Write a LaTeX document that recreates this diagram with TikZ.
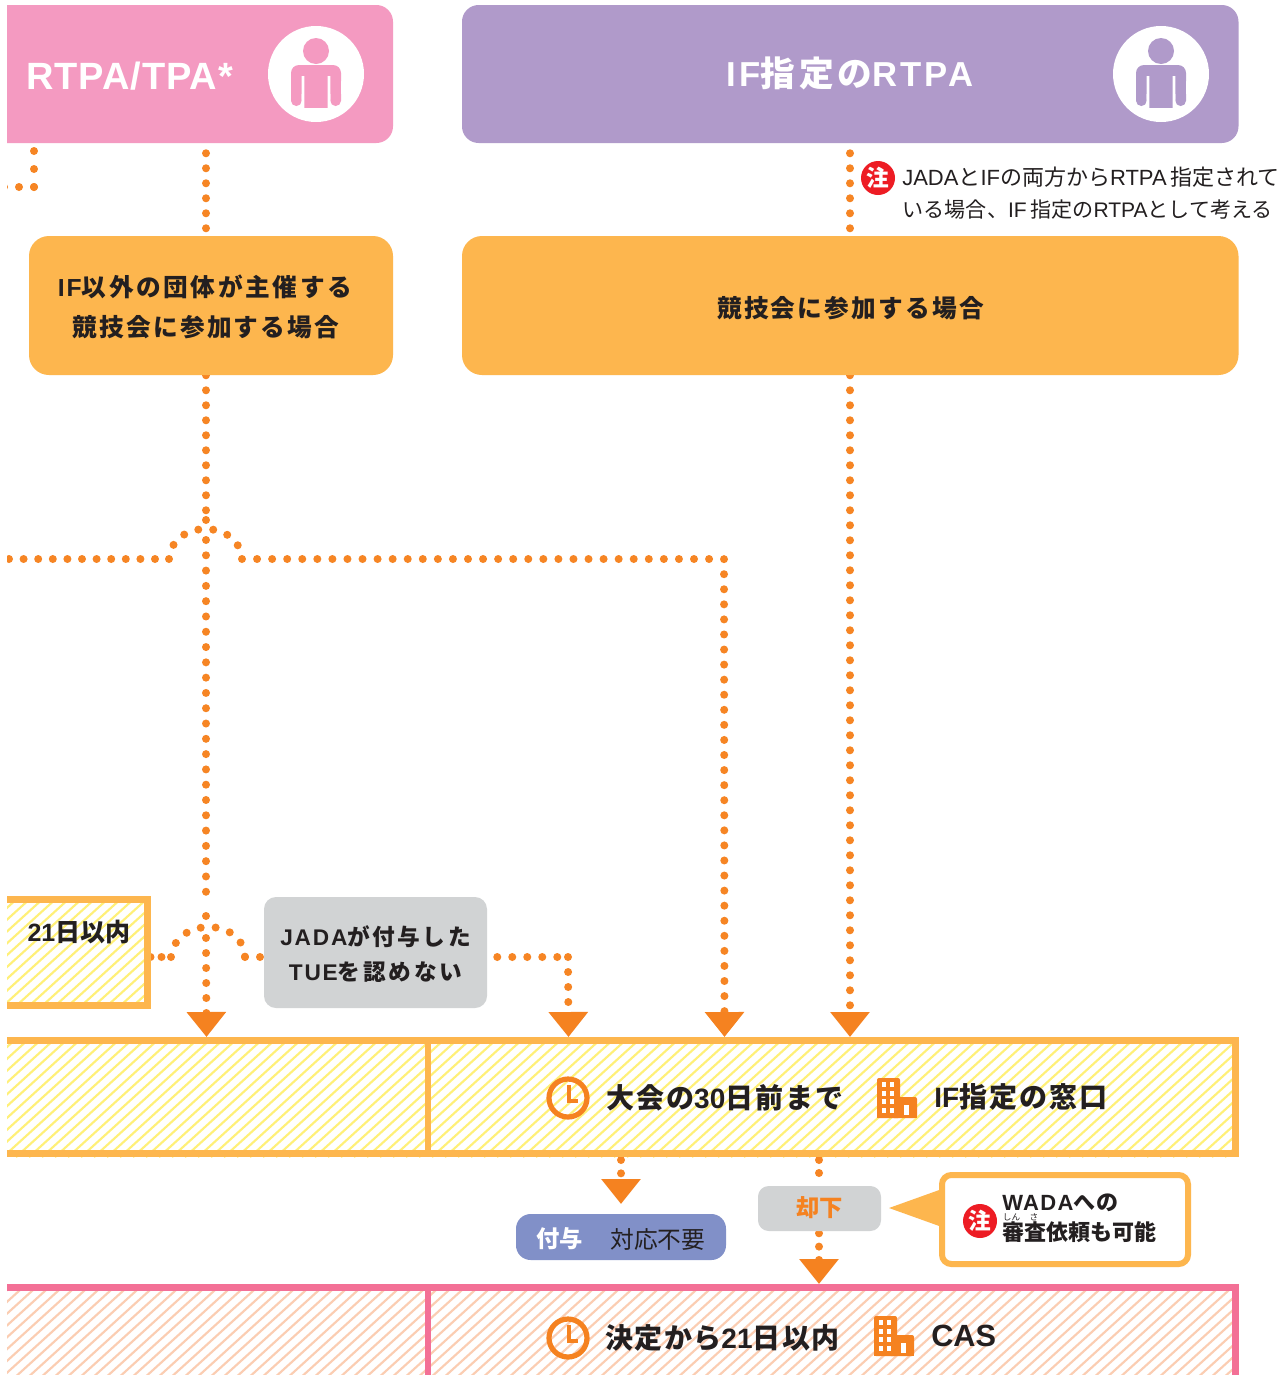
\documentclass[tikz,border=0pt]{standalone}
\usepackage{fontspec}
\usetikzlibrary{arrows.meta,calc}
\setmainfont{Liberation Sans}
\newfontfamily\jp{Noto Sans CJK JP}
\newcommand{\J}[1]{{\jp #1}}
\newcommand{\LS}[1]{\addfontfeature{LetterSpace=#1}}
\definecolor{dot}{HTML}{F68524}
\definecolor{tip}{HTML}{F58220}
\definecolor{pinkbox}{HTML}{F49AC1}
\definecolor{purplebox}{HTML}{B09ACA}
\definecolor{ambr}{HTML}{FDB64E}
\definecolor{ink}{HTML}{231F20}
\definecolor{graybox}{HTML}{D1D3D4}
\definecolor{bluepill}{HTML}{8190C8}
\definecolor{redmark}{HTML}{ED1C24}
\definecolor{rosebar}{HTML}{F37096}
\definecolor{hatchY}{HTML}{FFF078}
\definecolor{hatchP}{HTML}{FBCDB2}
\pgfdeclarelayer{bg}
\pgfdeclarelayer{under}
\pgfsetlayers{bg,under,main}
\tikzset{
  dotline/.style={draw=dot,line width=6pt,line cap=round,dash pattern=on 0pt off #1},
  dotline/.default=11.25pt,
  tiparrow/.style={-{Triangle[width=28.5pt,length=18.75pt,fill=tip,color=tip]}},
  lab/.style={text=ink,inner sep=0pt,font=\bfseries},
  solidbox/.style={inner sep=0pt,rounded corners=#1},
  framed/.style={draw=ambr,line width=5.25pt,inner sep=0pt},
  roseframed/.style={draw=rosebar,line width=5.25pt,inner sep=0pt},
  notemark/.style={circle,fill=redmark,minimum size=25.5pt,inner sep=0pt,text=white,font=\jp\bfseries\fontsize{17}{17}\selectfont},
}
% name, style, x1,y1,x2,y2
\newcommand{\boxnode}[6]{\node[#2,minimum width={(#5-#3)*0.75pt},minimum height={(#6-#4)*0.75pt}] (#1) at ({(#3+#5)/2},{(#4+#6)/2}) {};}
% icons
\newcommand{\person}[3]{%
  \begin{scope}[shift={(#1,#2)}]
    \fill[white] (0,0) circle[radius=48];
    \fill[#3] (0,-23) circle[radius=13];
    \fill[#3,rounded corners=6pt] (-25,15) -- (-25,-9) -- (25,-9) -- (25,15) -- cycle;
    \fill[#3] (-25,5) rectangle (25,20);
    \fill[#3] (-25,20) rectangle (-14.3,26.7) (14.3,20) rectangle (25,26.7);
    \fill[#3] (-19.65,26.7) circle[radius=5.35] (19.65,26.7) circle[radius=5.35];
    \fill[#3] (-11.7,20) rectangle (11.7,34);
    \fill[white] (-14.3,2) rectangle (-11.7,36) (11.7,2) rectangle (14.3,36);
  \end{scope}}
\newcommand{\clockicon}[2]{%
  \begin{scope}[shift={(#1,#2)}]
    \draw[tip,line width=3.9pt] (0,0) circle[radius=19];
    \draw[tip,line width=3pt] (1,-13) -- (1,3) -- (10,3);
  \end{scope}}
\newcommand{\building}[2]{%
  \begin{scope}[shift={(#1,#2)}]
    \fill[tip,rounded corners=1.5pt] (0,0) rectangle (23,40);
    \fill[tip] (0,20) rectangle (23,40);
    \fill[tip,rounded corners=1.5pt] (15,19) rectangle (40,40);
    \fill[tip] (15,24) rectangle (40,40);
    \foreach \xx in {4.5,13} \foreach \yy in {4,12.5,21,30} \fill[white] (\xx,\yy) rectangle ++(4,5);
    \fill[white] (27,27) rectangle ++(4.5,10);
  \end{scope}}
\newcommand{\hatchrect}[6]{% x1,y1,x2,y2,color,bg
  \begin{pgfonlayer}{bg}
  \begin{scope}
    \clip (#1,#2) rectangle (#3,#4);
    \fill[#6] (#1,#2) rectangle (#3,#4);
    \foreach \i in {-400,-387,...,1300} \draw[#5,line width=1.6pt] (\i,#4) -- ++({1.1*(#4-#2)},{-(#4-#2)});
  \end{scope}
  \end{pgfonlayer}}
\begin{document}
\begin{tikzpicture}[x=0.75pt,y=-0.75pt]
\useasboundingbox (0,0) rectangle (1286,1375);
\begin{pgfonlayer}{bg}\fill[white] (0,0) rectangle (1286,1375);\end{pgfonlayer}

% header boxes
\boxnode{pinkhead}{solidbox=12.5pt,fill=pinkbox}{-30}{5}{393}{143}
\boxnode{purplehead}{solidbox=12.5pt,fill=purplebox}{462}{5}{1238.5}{143}
\boxnode{caseA}{solidbox=15pt,fill=ambr}{29}{236}{393}{375}
\boxnode{caseB}{solidbox=15pt,fill=ambr}{462}{236}{1238.5}{375}
\person{316}{74}{pinkbox}
\person{1161}{74}{purplebox}
\node[lab,text=white,anchor=west] (titleA) at (26,76) {\fontsize{28.5}{30}\selectfont\LS{2.5}RTPA/TPA*};
\node[lab,text=white] (titleB) at (850,73.5) {\fontsize{26}{30}\selectfont\LS{9}IF\J{\LS{11}指定の}RTPA};
\node[lab,align=center] (caseAt1) at (205,287) {\fontsize{18.5}{20}\selectfont\LS{8}IF\J{\LS{10.7}以外の団体が主催する}};
\node[lab,align=center] (caseAt2) at (206,327) {\fontsize{18.5}{20}\selectfont\J{\LS{9}競技会に参加する場合}};
\node[lab] (caseBt) at (850.5,308) {\fontsize{18.5}{20}\selectfont\J{\LS{9}競技会に参加する場合}};

% note
\node[notemark] (noteA) at (878,178) {注};
\node[text=ink,inner sep=0pt,anchor=west] (noteA1) at (902,177) {\fontsize{16.5}{20}\selectfont JADA\J{と}IF\J{の両方から}RTPA\,\J{指定されて}};
\node[text=ink,inner sep=0pt,anchor=west] (noteA2) at (902.5,210) {\fontsize{15.8}{20}\selectfont\J{いる場合、}IF\,\J{指定の}RTPA\J{として考える}};

% hatched frames
\hatchrect{-20}{1040}{1238}{1157}{hatchY}{white}
\hatchrect{-20}{899}{148}{1006}{hatchY}{white}
\hatchrect{-20}{1287}{1238}{1400}{hatchP}{white}
\boxnode{bandY}{framed}{-20}{1040.5}{1235}{1153.5}
\boxnode{bandP}{roseframed}{-20}{1287.5}{1235}{1420}
\boxnode{limit}{framed}{-20}{899.5}{147}{1005.5}
\draw[ambr,line width=5pt] (bandY.north -| 428,0) -- (bandY.south -| 428,0);
\draw[rosebar,line width=5pt] (bandP.north -| 428,0) -- (428,1375);
\node[lab] (limitt) at (79,932) {\fontsize{18.75}{20}\selectfont 21\J{日以内}};

% grey box
\boxnode{refuse}{solidbox=9pt,fill=graybox}{264}{897}{487}{1008}
\node[lab,align=center] (refuset1) at (375.5,937) {\fontsize{17}{20}\selectfont\LS{8}JADA\J{\LS{11}が付与した}};
\node[lab,align=center] (refuset2) at (375.5,972) {\fontsize{17}{20}\selectfont\LS{8}TUE\J{\LS{12}を認めない}};

% band contents
\clockicon{568}{1098}
\node[lab,anchor=west] (bandYt1) at (606,1098) {\fontsize{21}{22}\selectfont\J{\LS{7}大会の}30\J{\LS{7}日前まで}};
\building{877}{1078}
\node[lab,anchor=west] (bandYt2) at (934,1097) {\fontsize{21}{22}\selectfont IF\J{\LS{7.5}指定の窓口}};
\clockicon{568}{1338}
\node[lab,anchor=west] (bandPt1) at (605,1338) {\fontsize{21}{22}\selectfont\J{\LS{5}決定から}21\J{\LS{5}日以内}};
\building{874}{1316}
\node[lab,anchor=west] (bandPt2) at (931,1336) {\fontsize{23}{24}\selectfont CAS};

% outcomes
\boxnode{grant}{solidbox=11pt,fill=bluepill}{516}{1214}{726}{1260}
\node[lab,text=white,anchor=west] (grantt1) at (536,1239) {\fontsize{17.5}{20}\selectfont\J{付与}};
\node[text=ink,inner sep=0pt,anchor=west] (grantt2) at (610,1239) {\fontsize{17.8}{20}\selectfont\J{対応不要}};
\boxnode{reject}{solidbox=8pt,fill=graybox}{758}{1186}{881}{1231}
\node[lab,text=tip] (rejectt) at (819.5,1208) {\fontsize{17.5}{20}\selectfont\J{却下}};
\fill[ambr] (889,1208) -- (942,1189) -- (942,1227) -- cycle;
\boxnode{wada}{framed,line width=4.5pt,rounded corners=7pt,fill=white}{942}{1175}{1188}{1264}
\node[notemark,minimum size=25.5pt] (noteB) at (980,1221) {注};
\node[lab,anchor=west] (wadat1) at (1002,1203) {\fontsize{16.5}{20}\selectfont\LS{6}WADA\J{\LS{3}への}};
\node[lab,anchor=west] (wadat2) at (1002,1232) {\fontsize{16.5}{20}\selectfont\J{審査依頼も可能}};
\node[text=ink,inner sep=0pt] (rubyA) at (1011.5,1217.5) {\fontsize{6.5}{7}\selectfont\J{しん}};
\node[text=ink,inner sep=0pt] (rubyB) at (1034,1217.5) {\fontsize{6.5}{7}\selectfont\J{さ}};

% connectors
\coordinate (hopTop) at (206,520);
\coordinate (hopTopB) at (206,540);
\coordinate (hopLow) at (206,907);
\coordinate (hopLowB) at (206,916);
\coordinate (hopLowC) at (206,938);
\begin{pgfonlayer}{under}
\coordinate (off1) at (34,187);
\coordinate (off2) at (4,187);
\draw[dotline=13.5pt,shorten <=6pt] (34,143) -- (off1);
\draw[dotline] (off1) -- (off2);
\draw[dotline,shorten <=7.5pt] (pinkhead.south -| 206,0) -- (caseA.north -| 206,0);
\draw[dotline,shorten <=7.5pt] (purplehead.south -| 850,0) -- (caseB.north -| 850,0);
% left column
\draw[dotline] (caseA.south -| 206,0) -- (206,512);
\draw[dotline] (hopTop) -- ++(0,0.5);
\draw[dotline=11.47pt] (hopTopB) -- (hopLow);
\draw[dotline] (hopLowB) -- ++(0,0.5);
\draw[dotline,tiparrow] (hopLowC) -- (bandY.north -| 206.5,0);
% branch at 559
\coordinate (branchL) at (169,559);
\coordinate (branchR) at (242,559);
\coordinate (branchC) at (724,559);
\draw[dotline=10.95pt] (9,559) -- (branchL);
\draw[dotline] (branchL) .. controls (172,519) and (239,519) .. (branchR);
\draw[dotline=11.3pt,tiparrow] (branchR) -- (branchC) -- (bandY.north -| 724.5,0);
% right column
\draw[dotline,tiparrow] (caseB.south -| 850,0) -- (bandY.north -| 850,0);
% branch at 957
\coordinate (lowL) at (171,957);
\coordinate (lowR) at (245,957);
\coordinate (lowC) at (568,957);
\draw[dotline=8.25pt] (limit.east |- lowL) -- (lowL);
\draw[dotline] (lowL) .. controls (175,917) and (243,917) .. (lowR);
\draw[dotline] (lowR) -- (refuse.west |- lowR);
\draw[dotline,shorten <=7.5pt] (refuse.east |- lowC) -- (lowC);
\draw[dotline,tiparrow] (lowC) -- (bandY.north -| 568.5,0);
% outcomes
\draw[dotline=10pt,shorten <=2.25pt,tiparrow] (bandY.south -| 621,0) -- (621,1204);
\draw[dotline=9.75pt,shorten <=2.25pt] (bandY.south -| 819,0) -- (reject.north -| 819,0);
\draw[dotline=10pt,shorten <=1.5pt,tiparrow] (reject.south -| 819,0) -- (bandP.north -| 819,0);
\end{pgfonlayer}
\fill[white] (-40,0) rectangle (6.5,1375);
\end{tikzpicture}
\end{document}
